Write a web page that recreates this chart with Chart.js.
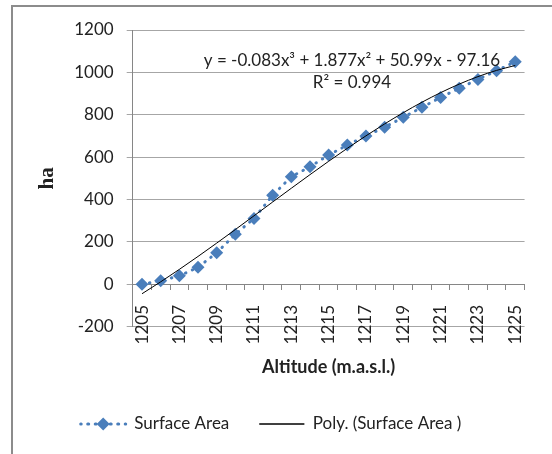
<!DOCTYPE html>
<html>
<head>
<meta charset="utf-8">
<script src="https://cdn.jsdelivr.net/npm/chart.js@4.4.0/dist/chart.umd.min.js"></script>
<style>
  html, body { margin: 0; padding: 0; background: #fff; }
  #wrap { position: relative; width: 552px; height: 454px; overflow: hidden; }
  #frame { position: absolute; left: 11px; top: 5px; right: -6px; bottom: -6px; border: 2px solid #8c8c8c; }
  #chart { position: absolute; left: 0; top: 0; }
</style>
</head>
<body>
<div id="wrap">
  <div id="frame"></div>
  <canvas id="chart" width="552" height="454"></canvas>
</div>
<script>
// data
const altitudes = ['1205', '1206', '1207', '1208', '1209', '1210', '1211', '1212', '1213', '1214', '1215',
                   '1216', '1217', '1218', '1219', '1220', '1221', '1222', '1223', '1224', '1225'];
const surfaceArea = [0, 17, 40, 80, 149, 236, 311, 420, 508, 555, 610, 657, 700, 741, 788, 835, 882, 925, 967, 1008, 1050];
// polynomial trend line as shown on the chart
const polyTrend = [-44.4, 11.7, 70.5, 131.5, 194.3, 258.4, 323.3, 388.4, 453.3, 517.4, 580.4,
                   641.6, 700.6, 756.8, 809.9, 859.2, 904.3, 944.8, 980.0, 1009.4, 1032.7];
const yMin = -200;
const yMax = 1200;
const yStep = 200;
const equationText = 'y = -0.083x³ + 1.877x² + 50.99x - 97.16';
const r2Text = 'R² = 0.994';

const blue = '#4a7ebb';
const textColor = '#222';

Chart.defaults.font.family = 'Lato';
Chart.defaults.font.size = 17;
Chart.defaults.color = textColor;

// equation + R² label of the trend line
const trendLabel = {
    id: 'trendLabel',
    afterDatasetsDraw(chart) {
        const { ctx, scales: { x, y } } = chart;
        ctx.save();
        ctx.font = '17px Lato';
        ctx.fillStyle = textColor;
        ctx.textAlign = 'center';
        ctx.textBaseline = 'middle';
        const cx = x.getPixelForValue(11.25);
        ctx.fillText(equationText, cx, y.getPixelForValue(1058));
        ctx.fillText(r2Text, cx, y.getPixelForValue(950));
        ctx.restore();
    }
};

// diamond on top of the dotted legend line
const legendDiamond = {
    id: 'legendDiamond',
    afterDraw(chart) {
        const legend = chart.legend;
        if (!legend || !legend.legendHitBoxes.length) return;
        const hb = legend.legendHitBoxes[0];
        const opts = legend.options.labels;
        const cx = hb.left + opts.boxWidth / 2;
        const cy = hb.top + opts.font.size / 2;
        const r = 6.5;
        const ctx = chart.ctx;
        ctx.save();
        ctx.fillStyle = blue;
        ctx.beginPath();
        ctx.moveTo(cx - r, cy);
        ctx.lineTo(cx, cy - r);
        ctx.lineTo(cx + r, cy);
        ctx.lineTo(cx, cy + r);
        ctx.closePath();
        ctx.fill();
        ctx.restore();
    }
};

const ctx = document.getElementById('chart').getContext('2d');
const chart = new Chart(ctx, {
    type: 'line',
    data: {
        labels: altitudes,
        datasets: [{
            label: 'Surface Area',
            data: surfaceArea,
            borderColor: blue,
            backgroundColor: blue,
            borderWidth: 3,
            borderDash: [0.5, 7],
            borderCapStyle: 'round',
            pointStyle: 'rectRot',
            pointRadius: 6.5,
            pointHoverRadius: 6.5,
            pointBorderWidth: 0,
            pointBackgroundColor: blue,
            order: 1
        }, {
            label: 'Poly. (Surface Area )',
            data: polyTrend,
            borderColor: '#000',
            backgroundColor: 'rgba(0,0,0,0)',
            borderWidth: 1,
            pointRadius: 0,
            cubicInterpolationMode: 'monotone',
            order: 0
        }]
    },
    options: {
        responsive: false,
        animation: false,
        layout: {
            padding: { left: 0, right: 10, top: 30, bottom: 11.5 }
        },
        plugins: {
            tooltip: { enabled: false },
            legend: {
                position: 'bottom',
                labels: {
                    boxWidth: 45,
                    boxHeight: 0,
                    padding: 30,
                    color: textColor,
                    font: { size: 17 },
                    sort: (a, b) => a.datasetIndex - b.datasetIndex
                }
            }
        },
        scales: {
            x: {
                type: 'category',
                position: { y: 0 },
                offset: true,
                grid: { display: true, drawOnChartArea: false, drawTicks: true, tickLength: 5, color: '#868686', offset: true },
                border: { display: true, color: '#868686', width: 1 },
                ticks: {
                    autoSkip: false,
                    minRotation: 90,
                    maxRotation: 90,
                    padding: 15.7,
                    color: textColor,
                    callback: function (value, index) {
                        return index % 2 === 0 ? this.getLabelForValue(value) : '';
                    }
                },
                afterFit: (scale) => { scale.height = 0; }
            },
            x2: {
                type: 'category',
                position: 'bottom',
                offset: true,
                grid: { display: false },
                border: { display: false },
                ticks: { display: false },
                title: {
                    display: true,
                    text: 'Altitude (m.a.s.l.)',
                    color: textColor,
                    font: { size: 18, weight: 'bold' },
                    padding: { top: 0, bottom: 7.7 }
                },
                afterFit: (scale) => { scale.height = 58.8; }
            },
            y: {
                min: yMin,
                max: yMax,
                ticks: {
                    stepSize: yStep,
                    padding: 13,
                    color: textColor,
                    callback: (value) => String(value)
                },
                grid: { color: '#a6a6a6', tickLength: 6 },
                border: { color: '#868686' },
                title: {
                    display: true,
                    text: 'ha',
                    color: textColor,
                    font: { family: 'Liberation Serif', size: 21, weight: 'bold' },
                    padding: { top: 35, bottom: 0 }
                },
                afterFit: (scale) => { scale.width = 132.7; }
            }
        }
    },
    plugins: [trendLabel, legendDiamond]
});
</script>
</body>
</html>
